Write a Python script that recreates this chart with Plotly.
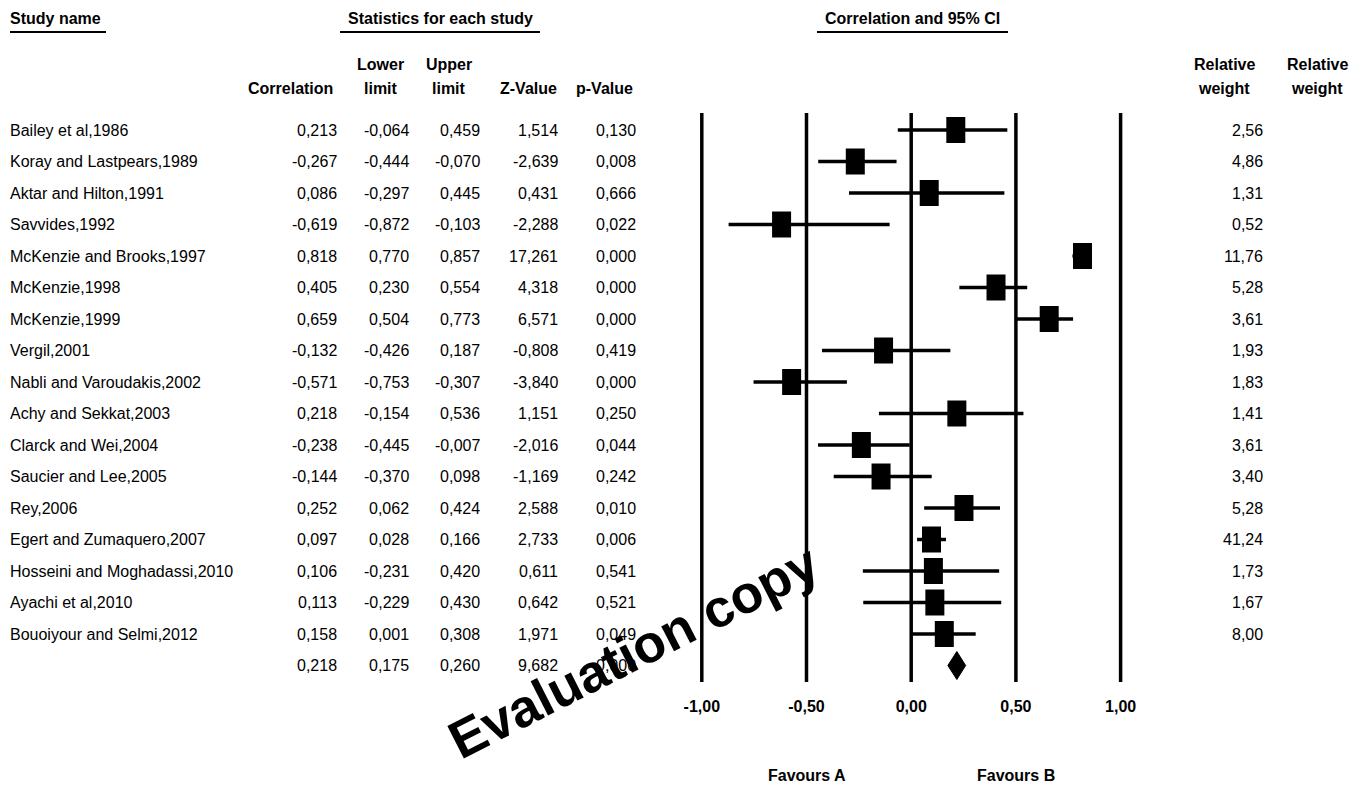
import plotly.graph_objects as go

# ---------------- data ----------------
studies = [
    "Bailey et al,1986", "Koray and Lastpears,1989", "Aktar and Hilton,1991",
    "Savvides,1992", "McKenzie and Brooks,1997", "McKenzie,1998", "McKenzie,1999",
    "Vergil,2001", "Nabli and Varoudakis,2002", "Achy and Sekkat,2003",
    "Clarck and Wei,2004", "Saucier and Lee,2005", "Rey,2006",
    "Egert and Zumaquero,2007", "Hosseini and Moghadassi,2010",
    "Ayachi et al,2010", "Bouoiyour and Selmi,2012",
]
correlation = [0.213, -0.267, 0.086, -0.619, 0.818, 0.405, 0.659, -0.132, -0.571,
               0.218, -0.238, -0.144, 0.252, 0.097, 0.106, 0.113, 0.158]
lower_limit = [-0.064, -0.444, -0.297, -0.872, 0.770, 0.230, 0.504, -0.426, -0.753,
               -0.154, -0.445, -0.370, 0.062, 0.028, -0.231, -0.229, 0.001]
upper_limit = [0.459, -0.070, 0.445, -0.103, 0.857, 0.554, 0.773, 0.187, -0.307,
               0.536, -0.007, 0.098, 0.424, 0.166, 0.420, 0.430, 0.308]
z_value = [1.514, -2.639, 0.431, -2.288, 17.261, 4.318, 6.571, -0.808, -3.840,
           1.151, -2.016, -1.169, 2.588, 2.733, 0.611, 0.642, 1.971]
p_value = [0.130, 0.008, 0.666, 0.022, 0.000, 0.000, 0.000, 0.419, 0.000,
           0.250, 0.044, 0.242, 0.010, 0.006, 0.541, 0.521, 0.049]
relative_weight = [2.56, 4.86, 1.31, 0.52, 11.76, 5.28, 3.61, 1.93, 1.83,
                   1.41, 3.61, 3.40, 5.28, 41.24, 1.73, 1.67, 8.00]
summary_corr = 0.218
summary_lower = 0.175
summary_upper = 0.260
summary_z = 9.682
summary_p = 0.000
axis_ticks = [-1.0, -0.5, 0.0, 0.5, 1.0]
favours_labels = ["Favours A", "Favours B"]
favours_pos = [-0.5, 0.5]

# ---------------- layout geometry ----------------
FIG_W, FIG_H = 1364, 787
ROW0_PX, ROW_PX = 130.0, 31.5          # pixel centre of first row, row pitch
X0_PX, UNIT_PX = 911.2, 209.4          # pixel of correlation 0, pixels per unit

FONT = "Liberation Sans, Arial, sans-serif"
FS = 16


def row_of(py):
    return (py - ROW0_PX) / ROW_PX


def xp(px):
    return px / FIG_W


def fmt3(v):
    return f"{v:.3f}".replace(".", ",")


def fmt2(v):
    return f"{v:.2f}".replace(".", ",")


n = len(studies)
rows = list(range(n))
sum_row = n

fig = go.Figure()

# vertical reference lines
vx, vy = [], []
for t in axis_ticks:
    vx += [t, t, None]
    vy += [row_of(113), row_of(682), None]
fig.add_trace(go.Scatter(x=vx, y=vy, mode="lines",
                         line=dict(color="black", width=3.5),
                         hoverinfo="skip", showlegend=False))

# confidence intervals
cx, cy = [], []
for lo, hi, r in zip(lower_limit, upper_limit, rows):
    cx += [lo, hi, None]
    cy += [r, r, None]
fig.add_trace(go.Scatter(x=cx, y=cy, mode="lines",
                         line=dict(color="black", width=3.5),
                         hoverinfo="skip", showlegend=False))

# point estimate boxes (drawn as bars centred on the correlation)
half_w = 9.5 / UNIT_PX
fig.add_trace(go.Bar(
    orientation="h", y=rows, x=[2 * half_w] * n,
    base=[c - half_w for c in correlation], width=26 / ROW_PX,
    marker=dict(color="black", line=dict(width=0)),
    hoverinfo="skip", showlegend=False))

# summary diamond
dh = 14 / ROW_PX
fig.add_trace(go.Scatter(
    x=[summary_lower, summary_corr, summary_upper, summary_corr, summary_lower],
    y=[sum_row, sum_row - dh, sum_row, sum_row + dh, sum_row],
    mode="lines", fill="toself", fillcolor="black",
    line=dict(color="black", width=1), hoverinfo="skip", showlegend=False))

ann = []


def txt(x_px, row, s, anchor="right", size=FS):
    ann.append(dict(x=xp(x_px), y=row, xref="paper", yref="y", text=s,
                    showarrow=False, xanchor=anchor, yanchor="middle",
                    font=dict(family=FONT, size=size, color="black"),
                    borderpad=0, borderwidth=0))


# table rows
for i in rows:
    txt(10, i, studies[i], anchor="left")
    txt(337, i, fmt3(correlation[i]))
    txt(409, i, fmt3(lower_limit[i]))
    txt(480, i, fmt3(upper_limit[i]))
    txt(558, i, fmt3(z_value[i]))
    txt(636, i, fmt3(p_value[i]))
    txt(1263, i, fmt2(relative_weight[i]))
# summary row
txt(337, sum_row, fmt3(summary_corr))
txt(409, sum_row, fmt3(summary_lower))
txt(480, sum_row, fmt3(summary_upper))
txt(558, sum_row, fmt3(summary_z))
txt(636, sum_row, fmt3(summary_p))

# headers
r_top, r_h1, r_h2 = row_of(18), row_of(64), row_of(88)
txt(10, r_top, "<b>Study name</b>", anchor="left")
txt(440, r_top, "<b>Statistics for each study</b>", anchor="center")
txt(912, r_top, "<b>Correlation and 95% CI</b>", anchor="center")
txt(290, r_h2, "<b>Correlation</b>", anchor="center")
txt(381, r_h1, "<b>Lower</b>", anchor="center")
txt(381, r_h2, "<b>limit</b>", anchor="center")
txt(449, r_h1, "<b>Upper</b>", anchor="center")
txt(449, r_h2, "<b>limit</b>", anchor="center")
txt(528, r_h2, "<b>Z-Value</b>", anchor="center")
txt(604, r_h2, "<b>p-Value</b>", anchor="center")
for cxp in (1224, 1317):
    txt(cxp, r_h1, "<b>Relative</b>", anchor="center")
    txt(cxp, r_h2, "<b>weight</b>", anchor="center")

# favours labels
for lab, pos in zip(favours_labels, favours_pos):
    ann.append(dict(x=pos, y=row_of(775), xref="x", yref="y", text=f"<b>{lab}</b>",
                    showarrow=False, xanchor="center", yanchor="middle",
                    font=dict(family=FONT, size=FS, color="black")))

# watermark
ann.append(dict(x=xp(633), y=1 - 651 / FIG_H, xref="paper", yref="paper",
                text="<b>Evaluation copy</b>", showarrow=False, textangle=-27,
                xanchor="center", yanchor="middle",
                font=dict(family="Liberation Sans, Arial, sans-serif", size=53,
                          color="black")))

# header underlines
shapes = []
for x0, x1 in [(10, 106), (340, 540), (817, 1008)]:
    shapes.append(dict(type="line", xref="paper", yref="paper",
                       x0=xp(x0), x1=xp(x1), y0=1 - 32 / FIG_H, y1=1 - 32 / FIG_H,
                       line=dict(color="black", width=2)))

tick_text = [f"{t:.2f}".replace(".", ",") for t in axis_ticks]

fig.update_layout(
    width=FIG_W, height=FIG_H,
    margin=dict(l=0, r=0, t=0, b=0),
    paper_bgcolor="white", plot_bgcolor="white",
    showlegend=False,
    annotations=ann, shapes=shapes,
    xaxis=dict(range=[(0 - X0_PX) / UNIT_PX, (FIG_W - X0_PX) / UNIT_PX],
               domain=[0, 1], anchor="free", position=1 - 682 / FIG_H,
               tickvals=axis_ticks, ticktext=tick_text,
               ticks="outside", ticklen=10, tickcolor="rgba(0,0,0,0)",
               showgrid=False, zeroline=False, showline=False,
               tickfont=dict(family=FONT, size=FS, color="black", weight="bold"),
               fixedrange=True),
    yaxis=dict(range=[row_of(FIG_H), row_of(0)], domain=[0, 1],
               showgrid=False, zeroline=False, showline=False,
               showticklabels=False, ticks="", fixedrange=True),
)

fig.write_html("out.html", config={"displayModeBar": False},
               post_script="document.body.style.margin='0';")
